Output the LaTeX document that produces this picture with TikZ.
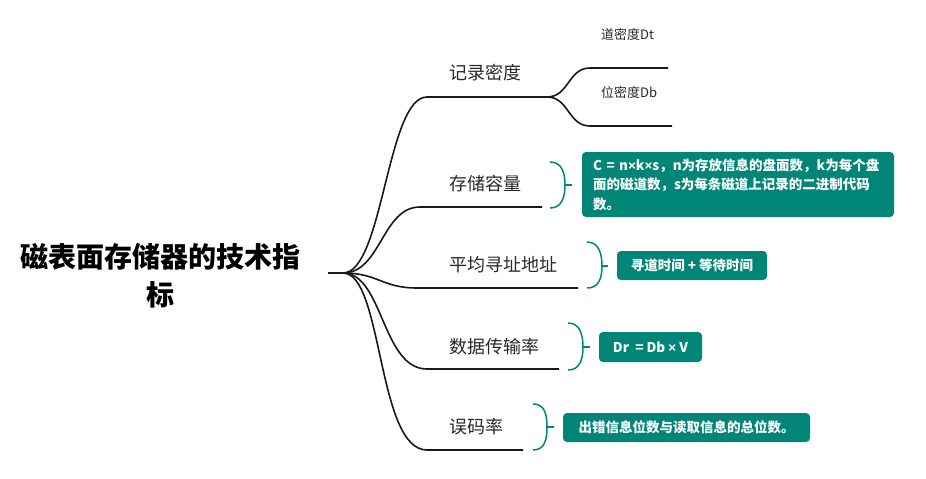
\documentclass[tikz,border=0pt]{standalone}
\usepackage{fontspec}
\setmainfont{Noto Sans CJK SC}
\newfontfamily\timesfont{Liberation Sans}
\newcommand{\tms}{{\timesfont ×}}
\usepackage{tikz}
\usetikzlibrary{positioning,calc}
\definecolor{mapteal}{RGB}{0,133,119}
\definecolor{mapgrey}{RGB}{40,40,40}
\definecolor{mapline}{RGB}{25,25,25}

\begin{document}
\begin{tikzpicture}[x=1pt,y=-1pt,
  branchtext/.style={anchor=west, inner sep=0pt, text=mapgrey, font=\fontsize{18}{18}\selectfont},
  leaftext/.style={anchor=west, inner sep=0pt, text=mapgrey, font=\fontsize{13}{13}\selectfont},
  notebox/.style={fill=mapteal, rounded corners=4pt, text=white, inner sep=0pt, font=\bfseries\fontsize{13.5}{19.5}\selectfont},
  branch/.style={draw=mapline, line width=1.6pt},
  brace/.style={draw=mapteal, line width=1.5pt}]
\useasboundingbox (0,0) rectangle (926,479);

% root
\node[font=\bfseries\fontsize{28}{38}\selectfont, align=center, text=black] (root) at (160,276) {磁表面存储器的技术指\\标};
\coordinate (r0) at (328,273);
\coordinate (r1) at (343,273);
\draw[branch] (r0) -- (r1);

% branch ends
\coordinate (b1s) at (427,97);  \coordinate (b1e) at (547,97);
\coordinate (b2s) at (420,207); \coordinate (b2e) at (542,207);
\coordinate (b3s) at (417,288); \coordinate (b3e) at (578,288);
\coordinate (b4s) at (427,369); \coordinate (b4e) at (559,369);
\coordinate (b5s) at (427,450); \coordinate (b5e) at (523,450);

\draw[branch] (r1) .. controls +(40,0) and +(-40,0) .. (b1s) -- (b1e);
\draw[branch] (r1) .. controls +(38,0) and +(-38,0) .. (b2s) -- (b2e);
\draw[branch] (r1) .. controls +(35,0) and +(-35,0) .. (b3s) -- (b3e);
\draw[branch] (r1) .. controls +(40,0) and +(-45,0) .. (b4s) -- (b4e);
\draw[branch] (r1) .. controls +(40,0) and +(-50,0) .. (b5s) -- (b5e);

\node[branchtext] (t1) at (449,73)  {记录密度};
\node[branchtext] (t2) at (449,184) {存储容量};
\node[branchtext] (t3) at (449,265) {平均寻址地址};
\node[branchtext] (t4) at (449,347) {数据传输率};
\node[branchtext] (t5) at (449,427) {误码率};

% sub branches of 记录密度
\coordinate (s1s) at (590,68);  \coordinate (s1e) at (668,68);
\coordinate (s2s) at (590,126); \coordinate (s2e) at (672,126);
\draw[branch] (b1e) .. controls +(22,0) and +(-22,0) .. (s1s) -- (s1e);
\draw[branch] (b1e) .. controls +(22,0) and +(-22,0) .. (s2s) -- (s2e);
\node[leaftext] (l1) at (601,34) {道密度Dt};
\node[leaftext] (l2) at (601,92) {位密度Db};

% notes
\node[notebox, text width=290pt, inner xsep=11pt, minimum height=65pt, align=left] (n1) at (738,184.5)
  {C = n\tms k\tms s，n为存放信息的盘面数，k为每个盘\\面的磁道数，s为每条磁道上记录的二进制代码\\数。};
\node[notebox, minimum width=150pt, minimum height=29pt] (n2) at (692,265.5) {寻道时间 + 等待时间};
\node[notebox, minimum width=103pt, minimum height=30pt] (n3) at (650.5,347) {Dr\ \ = Db \tms\ V};
\node[notebox, minimum width=247pt, minimum height=29pt] (n4) at (686.5,427.5) {出错信息位数与读取信息的总位数。};

% braces
\coordinate (k1t) at (550,162); \coordinate (k1m) at (565,185); \coordinate (k1b) at (550,208); \coordinate (k1e) at (572,185);
\coordinate (k2t) at (587,242); \coordinate (k2m) at (602,266); \coordinate (k2b) at (587,288); \coordinate (k2e) at (608,266);
\coordinate (k3t) at (568,323); \coordinate (k3m) at (583,347); \coordinate (k3b) at (568,370); \coordinate (k3e) at (590,347);
\coordinate (k4t) at (533,404); \coordinate (k4m) at (547,427); \coordinate (k4b) at (533,450); \coordinate (k4e) at (554,427);

\draw[brace] (k1t) .. controls +(12,0) and +(0,-12) .. (k1m) .. controls +(0,12) and +(12,0) .. (k1b);
\draw[brace] (k1m) -- (k1e);
\draw[brace] (k2t) .. controls +(12,0) and +(0,-12) .. (k2m) .. controls +(0,12) and +(12,0) .. (k2b);
\draw[brace] (k2m) -- (k2e);
\draw[brace] (k3t) .. controls +(12,0) and +(0,-12) .. (k3m) .. controls +(0,12) and +(12,0) .. (k3b);
\draw[brace] (k3m) -- (k3e);
\draw[brace] (k4t) .. controls +(12,0) and +(0,-12) .. (k4m) .. controls +(0,12) and +(12,0) .. (k4b);
\draw[brace] (k4m) -- (k4e);
\end{tikzpicture}
\end{document}
